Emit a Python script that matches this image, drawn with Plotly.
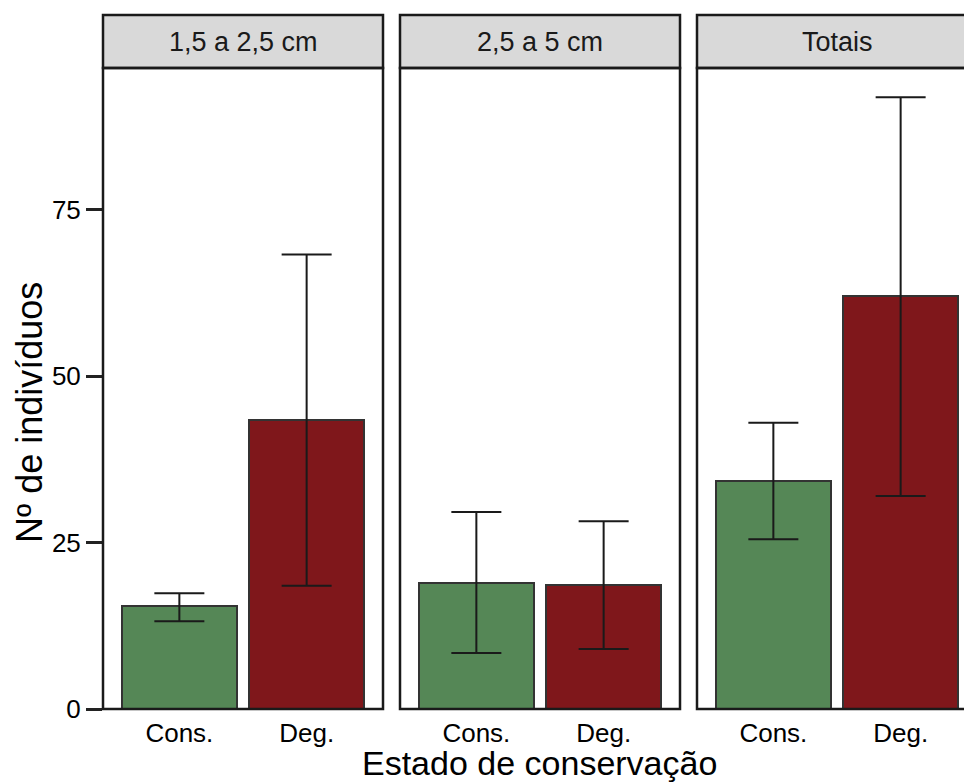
import plotly.graph_objects as go

panels = ["1,5 a 2,5 cm", "2,5 a 5 cm", "Totais"]
categories = ["Cons.", "Deg."]
means = [[15.5, 43.4], [19.0, 18.6], [34.3, 62.0]]
lower = [[13.2, 18.5], [8.4, 9.0], [25.5, 32.0]]
upper = [[17.4, 68.3], [29.6, 28.2], [43.0, 91.9]]
y_ticks = [0, 25, 50, 75]
colors = ["#558756", "#7F171B"]

W, H = 964, 782
ML, MR, MT, MB = 103, 0, 68, 73
pw = W - ML - MR
ph = H - MT - MB
panel_px = [(103, 383), (400, 680), (697, 964)]
unit_px = (383 - 103) / 2.2

fig = go.Figure()
for i in range(3):
    xa = "x" if i == 0 else f"x{i+1}"
    ya = "y" if i == 0 else f"y{i+1}"
    fig.add_trace(go.Bar(
        x=[1, 2], y=means[i], width=0.9,
        marker=dict(color=colors, line=dict(color="#333333", width=2)),
        error_y=dict(type="data", symmetric=False,
                     array=[u - m for u, m in zip(upper[i], means[i])],
                     arrayminus=[m - l for m, l in zip(means[i], lower[i])],
                     thickness=2, width=25, color="#1a1a1a"),
        xaxis=xa, yaxis=ya, showlegend=False))

font = "Liberation Sans, Arial, sans-serif"
layout = dict(width=W, height=H, margin=dict(l=ML, r=MR, t=MT, b=MB),
              plot_bgcolor="white", paper_bgcolor="white",
              font=dict(family=font, color="black"), bargap=0)
shapes = []
annotations = []
for i in range(3):
    x0p, x1p = panel_px[i]
    dom = [(x0p - ML) / pw, (x1p - ML) / pw]
    key = "" if i == 0 else str(i + 1)
    xmax = 0.4 + (x1p - x0p) / unit_px
    layout["xaxis" + key] = dict(domain=dom, range=[0.4, xmax], tickvals=[1, 2],
                                 ticktext=categories, ticks="outside", ticklen=1,
                                 tickcolor="rgba(0,0,0,0)", showgrid=False,
                                 zeroline=False, showline=False,
                                 tickfont=dict(size=26, color="black"),
                                 anchor="y" + key)
    yax = dict(range=[0, 96.3], showgrid=False, zeroline=False, showline=False,
               anchor="x" + key)
    if i == 0:
        yax.update(tickvals=y_ticks, ticks="outside", ticklen=16, tickwidth=2.5,
                   tickcolor="#222222", tickfont=dict(size=26, color="black"))
    else:
        yax.update(showticklabels=False, ticks="")
    if i > 0:
        yax["matches"] = "y"
    layout["yaxis" + key] = yax
    xr = "x" + key + " domain"
    yr = "y" + key + " domain"
    x1_ext = 280 / (x1p - x0p)
    strip_top = 1 + (MT - 15) / ph
    shapes.append(dict(type="rect", xref=xr, yref=yr, x0=0, x1=x1_ext, y0=1, y1=strip_top,
                       fillcolor="#D9D9D9", line=dict(color="#1a1a1a", width=2.5), layer="below"))
    shapes.append(dict(type="rect", xref=xr, yref=yr, x0=0, x1=x1_ext, y0=0, y1=1,
                       fillcolor="rgba(0,0,0,0)", line=dict(color="#1a1a1a", width=2.5), layer="above"))
    annotations.append(dict(text=panels[i], xref="paper", yref=yr,
                            x=((x0p + x0p + 280) / 2 - ML) / pw, y=(1 + strip_top) / 2,
                            showarrow=False, font=dict(size=27, color="#1a1a1a"),
                            xanchor="center", yanchor="middle"))

annotations.append(dict(text="Estado de conservação", xref="paper", yref="paper",
                        x=(539 - ML) / pw, y=-(763 - (MT + ph)) / ph, showarrow=False,
                        font=dict(size=34, color="black"), xanchor="center", yanchor="middle"))
annotations.append(dict(text="Nº de indivíduos", xref="paper", yref="paper",
                        x=(29 - ML) / pw, y=((MT + ph) - 413) / ph, showarrow=False,
                        textangle=-90, font=dict(size=36, color="black"),
                        xanchor="center", yanchor="middle"))
layout["shapes"] = shapes
layout["annotations"] = annotations
fig.update_layout(**layout)
fig.write_html("out.html", config={"displayModeBar": False},
               post_script="document.body.style.margin='0px';document.body.style.padding='0px';")
